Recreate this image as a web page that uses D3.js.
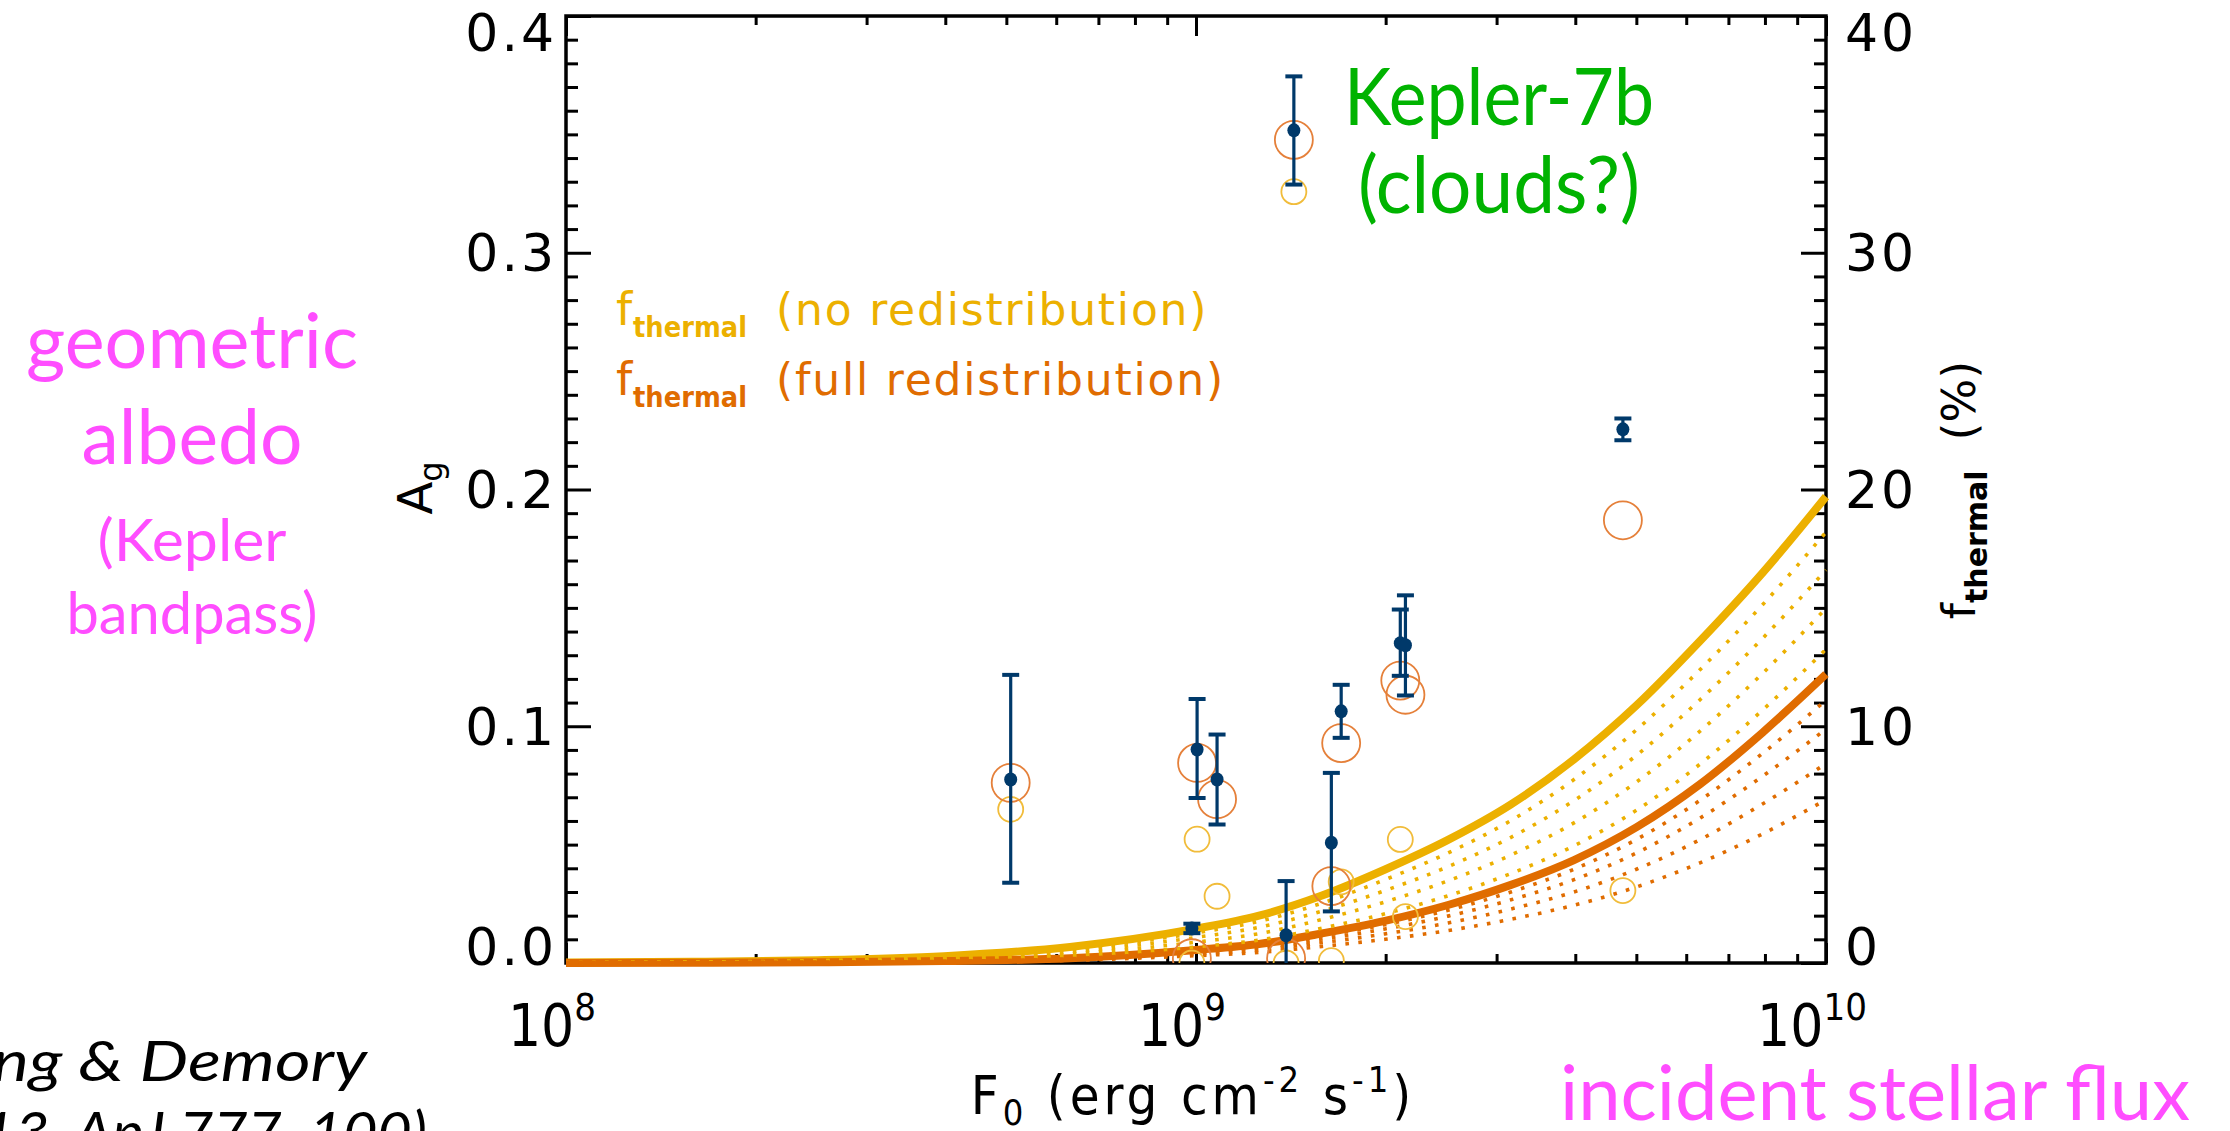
<!DOCTYPE html>
<html>
<head>
<meta charset="utf-8">
<script src="https://cdn.jsdelivr.net/npm/d3@7"></script>
<style>
  html, body { margin: 0; padding: 0; background: #ffffff; }
  svg { display: block; }
</style>
</head>
<body>
<div id="chart"></div>
<script>
// ---- data ----------------------------------------------------------------
// flux grid (log10 F0, erg cm^-2 s^-1) on which the thermal-fraction curves are tabulated
const logFluxGrid = [8.0, 8.2, 8.4, 8.6, 8.8, 9.0, 9.1, 9.2, 9.3, 9.4, 9.5, 9.6, 9.7, 9.8, 9.9, 10.0];

// f_thermal (%) with no heat redistribution (solid yellow)
const fThermalNoRedist = [0.02, 0.05, 0.12, 0.29, 0.68, 1.45, 2.0, 2.85, 3.95, 5.2, 6.7, 8.6, 10.9, 13.6, 16.5, 19.7];
// f_thermal (%) with full heat redistribution (solid orange)
const fThermalFullRedist = [0.0, 0.01, 0.03, 0.08, 0.2, 0.55, 0.8, 1.25, 1.78, 2.45, 3.3, 4.35, 5.75, 7.55, 9.75, 12.2];

// dotted yellow curves lying between the two limits
const fThermalYellowDotted = [
  [0.02, 0.04, 0.10, 0.25, 0.58, 1.27, 1.76, 2.53, 3.52, 4.65, 6.02, 7.75, 9.87, 12.39, 15.15, 18.2],
  [0.01, 0.03, 0.08, 0.20, 0.48, 1.08, 1.51, 2.19, 3.06, 4.07, 5.31, 6.86, 8.79, 11.12, 13.73, 16.6],
  [0.01, 0.03, 0.06, 0.16, 0.38, 0.88, 1.24, 1.84, 2.58, 3.47, 4.56, 5.92, 7.66, 9.79, 12.25, 14.98],
  [0.0, 0.02, 0.04, 0.11, 0.27, 0.68, 0.97, 1.47, 2.08, 2.84, 3.78, 4.95, 6.47, 8.4, 10.7, 13.25]
];
// dotted orange curves below the full-redistribution limit
const fThermalOrangeDotted = [
  [0.0, 0.01, 0.03, 0.07, 0.18, 0.50, 0.73, 1.14, 1.62, 2.23, 3.0, 3.96, 5.23, 6.87, 8.87, 11.1],
  [0.0, 0.01, 0.02, 0.06, 0.16, 0.45, 0.65, 1.01, 1.44, 1.98, 2.67, 3.52, 4.66, 6.12, 7.9, 9.88],
  [0.0, 0.01, 0.02, 0.06, 0.14, 0.38, 0.55, 0.86, 1.23, 1.69, 2.28, 3.0, 3.97, 5.21, 6.73, 8.42],
  [0.0, 0.01, 0.02, 0.04, 0.11, 0.31, 0.45, 0.70, 1.0, 1.37, 1.85, 2.44, 3.22, 4.23, 5.46, 6.9]
];

// measured Kepler-band geometric albedos
const planetFlux   = [5.08e8, 0.985e9, 1.004e9, 1.08e9, 1.39e9, 1.43e9, 1.64e9, 1.70e9, 2.11e9, 2.15e9, 4.76e9];
const planetAg     = [0.0775, 0.0146, 0.0902, 0.0775, 0.0117, 0.3517, 0.0508, 0.1063, 0.1351, 0.1342, 0.2254];
const agErrUp      = [0.0442, 0.0020, 0.0213, 0.0190, 0.0229, 0.0228, 0.0295, 0.0112, 0.0142, 0.0211, 0.0046];
const agErrDown    = [0.0436, 0.0020, 0.0205, 0.0190, 0.0229, 0.0229, 0.0290, 0.0112, 0.0138, 0.0212, 0.0046];
// albedo after removing the thermal part (open circles)
const agCorrFull   = [0.0761, 0.002, 0.0845, 0.0692, 0.002, 0.3477, 0.0325, 0.0929, 0.1193, 0.1133, 0.187];
const agCorrNone   = [0.0649, 0.0, 0.0523, 0.0282, 0.0, 0.3258, 0.001, 0.0343, 0.0522, 0.0196, 0.0306];

// axis ticks
const agMajorTicks = [0.0, 0.1, 0.2, 0.3, 0.4];
const agTickLabels = ["0.0", "0.1", "0.2", "0.3", "0.4"];
const fMajorTicks = [0, 10, 20, 30, 40];
const fTickLabels = ["0", "10", "20", "30", "40"];
const fluxExponents = [8, 9, 10];

// ---- layout ---------------------------------------------------------------
const W = 2230, H = 1131;
const plot = { left: 566, right: 1826, top: 16, bottom: 963 };

const C = {
  yellow: "#ECB000",
  orange: "#E06C00",
  yellowRing: "#F1BC3A",
  orangeRing: "#E5803A",
  navy: "#00396A",
  green: "#00B300",
  pink: "#FF4DFF",
  ink: "#000000"
};

const tickFont = "'DejaVu Sans', sans-serif";
const narrowFont = "'Liberation Sans Narrow', 'DejaVu Sans Condensed', 'Liberation Sans', sans-serif";
const humanistFont = "Lato, 'Open Sans', sans-serif";

const svg = d3.select("#chart").append("svg")
  .attr("width", W).attr("height", H)
  .attr("viewBox", `0 0 ${W} ${H}`);

svg.append("rect").attr("width", W).attr("height", H).attr("fill", "#fff");

const x = d3.scaleLog().domain([1e8, 1e10]).range([plot.left, plot.right]);
const y = d3.scaleLinear().domain([0, 0.4]).range([plot.bottom, plot.top]);
const yR = d3.scaleLinear().domain([0, 40]).range([plot.bottom, plot.top]);

svg.append("defs").append("clipPath").attr("id", "plotClip")
  .append("rect")
  .attr("x", plot.left).attr("y", plot.top)
  .attr("width", plot.right - plot.left).attr("height", plot.bottom - plot.top);

// ---- axes -----------------------------------------------------------------
const axesG = svg.append("g");

function styleAxis(g) {
  g.select(".domain").remove();
  g.selectAll(".tick line").attr("stroke", C.ink).attr("stroke-width", 3);
  g.selectAll(".tick text").remove();
}

const minorFlux = [];
[1e8, 1e9].forEach(dec => d3.range(2, 10).forEach(k => minorFlux.push(k * dec)));
const majorFlux = fluxExponents.map(e => Math.pow(10, e));
const minorAg = d3.range(1, 40).map(i => i / 100).filter(v => Math.round(v * 100) % 10 !== 0);
const minorF = d3.range(1, 40).filter(v => v % 10 !== 0);

// bottom & top (ticks point into the plot)
axesG.append("g").attr("transform", `translate(0,${plot.bottom})`)
  .call(d3.axisBottom(x).tickValues(minorFlux).tickSize(-9).tickSizeOuter(0)).call(styleAxis);
axesG.append("g").attr("transform", `translate(0,${plot.bottom})`)
  .call(d3.axisBottom(x).tickValues(majorFlux).tickSize(-20).tickSizeOuter(0)).call(styleAxis);
axesG.append("g").attr("transform", `translate(0,${plot.top})`)
  .call(d3.axisTop(x).tickValues(minorFlux).tickSize(-9).tickSizeOuter(0)).call(styleAxis);
axesG.append("g").attr("transform", `translate(0,${plot.top})`)
  .call(d3.axisTop(x).tickValues(majorFlux).tickSize(-20).tickSizeOuter(0)).call(styleAxis);

// left (albedo) and right (thermal fraction)
axesG.append("g").attr("transform", `translate(${plot.left},0)`)
  .call(d3.axisLeft(y).tickValues(minorAg).tickSize(-12).tickSizeOuter(0)).call(styleAxis);
axesG.append("g").attr("transform", `translate(${plot.left},0)`)
  .call(d3.axisLeft(y).tickValues(agMajorTicks).tickSize(-25).tickSizeOuter(0)).call(styleAxis);
axesG.append("g").attr("transform", `translate(${plot.right},0)`)
  .call(d3.axisRight(yR).tickValues(minorF).tickSize(-12).tickSizeOuter(0)).call(styleAxis);
axesG.append("g").attr("transform", `translate(${plot.right},0)`)
  .call(d3.axisRight(yR).tickValues(fMajorTicks).tickSize(-25).tickSizeOuter(0)).call(styleAxis);

axesG.append("rect")
  .attr("x", plot.left).attr("y", plot.top)
  .attr("width", plot.right - plot.left).attr("height", plot.bottom - plot.top)
  .attr("fill", "none").attr("stroke", C.ink).attr("stroke-width", 3.5);

// tick labels; the end labels sit a little inside the frame
const labelY = v => Math.min(Math.max(v, plot.top + 16), plot.bottom - 17);

axesG.append("g").selectAll("text").data(agMajorTicks).join("text")
  .attr("x", plot.left - 9)
  .attr("y", d => labelY(y(d)))
  .attr("dy", "0.36em")
  .attr("text-anchor", "end")
  .attr("font-family", tickFont).attr("font-size", 52)
  .attr("letter-spacing", 3)
  .text((d, i) => agTickLabels[i]);

axesG.append("g").selectAll("text").data(fMajorTicks).join("text")
  .attr("x", plot.right + 19)
  .attr("y", d => labelY(yR(d)))
  .attr("dy", "0.36em")
  .attr("text-anchor", "start")
  .attr("font-family", tickFont).attr("font-size", 52)
  .attr("letter-spacing", 3)
  .text((d, i) => fTickLabels[i]);

const xLab = axesG.append("g").selectAll("text").data(fluxExponents).join("text")
  .attr("x", d => x(Math.pow(10, d)) - 14)
  .attr("y", 1046)
  .attr("text-anchor", "middle")
  .attr("font-family", narrowFont).attr("font-size", 58);
xLab.append("tspan").text("10");
xLab.append("tspan").attr("font-size", 38).attr("dy", -26).text(d => d);

// axis titles
const xTitle = svg.append("text")
  .attr("x", 1193).attr("y", 1114)
  .attr("text-anchor", "middle")
  .attr("font-family", narrowFont).attr("font-size", 54)
  .attr("letter-spacing", 4);
xTitle.append("tspan").text("F");
xTitle.append("tspan").attr("font-size", 36).attr("dy", 11).text("0");
xTitle.append("tspan").attr("dy", -11).text(" (erg cm");
xTitle.append("tspan").attr("font-size", 36).attr("dy", -22).text("-2");
xTitle.append("tspan").attr("dy", 22).text(" s");
xTitle.append("tspan").attr("font-size", 36).attr("dy", -22).text("-1");
xTitle.append("tspan").attr("dy", 22).text(")");

const agTitle = svg.append("text")
  .attr("transform", "translate(432,488) rotate(-90)")
  .attr("text-anchor", "middle")
  .attr("font-family", tickFont).attr("font-size", 48);
agTitle.append("tspan").text("A");
agTitle.append("tspan").attr("font-size", 32).attr("dy", 10).text("g");

const fTitle = svg.append("text")
  .attr("transform", "translate(1975,490) rotate(-90)")
  .attr("text-anchor", "middle")
  .attr("font-family", tickFont).attr("font-size", 46);
fTitle.append("tspan").text("f");
fTitle.append("tspan").attr("font-size", 30).attr("dy", 12).attr("font-weight", "bold").text("thermal");
fTitle.append("tspan").attr("dy", -12).attr("dx", 30).text("(%)");

// ---- thermal-fraction curves ------------------------------------------------
const curve = d3.line()
  .x((d, i) => x(Math.pow(10, logFluxGrid[i])))
  .y(d => yR(d))
  .curve(d3.curveMonotoneX);

const curvesG = svg.append("g").attr("fill", "none");

curvesG.append("path").attr("d", curve(fThermalNoRedist))
  .attr("stroke", C.yellow).attr("stroke-width", 8);
curvesG.append("path").attr("d", curve(fThermalFullRedist))
  .attr("stroke", C.orange).attr("stroke-width", 8);

curvesG.selectAll(".ydot").data(fThermalYellowDotted).join("path")
  .attr("class", "ydot")
  .attr("d", d => curve(d))
  .attr("stroke", C.yellow).attr("stroke-width", 3.6)
  .attr("stroke-dasharray", "3.6 9.4");
curvesG.selectAll(".odot").data(fThermalOrangeDotted).join("path")
  .attr("class", "odot")
  .attr("d", d => curve(d))
  .attr("stroke", C.orange).attr("stroke-width", 3.6)
  .attr("stroke-dasharray", "3.6 9.4");

// ---- albedo measurements ------------------------------------------------------
const idx = d3.range(planetFlux.length);
const marksG = svg.append("g").attr("clip-path", "url(#plotClip)");

marksG.append("g").selectAll("circle").data(idx).join("circle")
  .attr("cx", i => x(planetFlux[i])).attr("cy", i => y(agCorrNone[i]))
  .attr("r", 12.5).attr("fill", "none")
  .attr("stroke", C.yellowRing).attr("stroke-width", 1.8);

marksG.append("g").selectAll("circle").data(idx).join("circle")
  .attr("cx", i => x(planetFlux[i])).attr("cy", i => y(agCorrFull[i]))
  .attr("r", 19).attr("fill", "none")
  .attr("stroke", C.orangeRing).attr("stroke-width", 1.8);

const errG = marksG.append("g").attr("stroke", C.navy);
errG.selectAll(".bar").data(idx).join("line").attr("class", "bar")
  .attr("x1", i => x(planetFlux[i])).attr("x2", i => x(planetFlux[i]))
  .attr("y1", i => y(planetAg[i] + agErrUp[i])).attr("y2", i => y(planetAg[i] - agErrDown[i]))
  .attr("stroke-width", 3.2);
errG.selectAll(".capHi").data(idx).join("line").attr("class", "capHi")
  .attr("x1", i => x(planetFlux[i]) - 8.5).attr("x2", i => x(planetFlux[i]) + 8.5)
  .attr("y1", i => y(planetAg[i] + agErrUp[i])).attr("y2", i => y(planetAg[i] + agErrUp[i]))
  .attr("stroke-width", 4);
errG.selectAll(".capLo").data(idx).join("line").attr("class", "capLo")
  .attr("x1", i => x(planetFlux[i]) - 8.5).attr("x2", i => x(planetFlux[i]) + 8.5)
  .attr("y1", i => y(planetAg[i] - agErrDown[i])).attr("y2", i => y(planetAg[i] - agErrDown[i]))
  .attr("stroke-width", 4);

marksG.append("g").selectAll("ellipse").data(idx).join("ellipse")
  .attr("cx", i => x(planetFlux[i])).attr("cy", i => y(planetAg[i]))
  .attr("rx", 6.5).attr("ry", 7).attr("fill", C.navy);

// ---- annotations ----------------------------------------------------------------
function thermalLegend(yBase, color, rest) {
  const g = svg.append("g").attr("fill", color).attr("font-family", tickFont);
  g.append("text").attr("x", 616).attr("y", yBase).attr("font-size", 46).text("f");
  g.append("text").attr("x", 633).attr("y", yBase + 12).attr("font-size", 29)
    .attr("font-weight", "bold").attr("textLength", 114).attr("lengthAdjust", "spacingAndGlyphs").text("thermal");
  g.append("text").attr("x", 776).attr("y", yBase).attr("font-size", 44)
    .attr("letter-spacing", 1.8).text(rest);
}
thermalLegend(325, C.yellow, "(no redistribution)");
thermalLegend(395, C.orange, "(full redistribution)");

svg.append("text").attr("x", 1499).attr("y", 125)
  .attr("text-anchor", "middle").attr("fill", C.green)
  .attr("font-family", humanistFont).attr("font-size", 80)
  .attr("textLength", 310).attr("lengthAdjust", "spacingAndGlyphs")
  .text("Kepler-7b");
svg.append("text").attr("x", 1499).attr("y", 213)
  .attr("text-anchor", "middle").attr("fill", C.green)
  .attr("font-family", humanistFont).attr("font-size", 80)
  .attr("textLength", 282).attr("lengthAdjust", "spacingAndGlyphs")
  .text("(clouds?)");

const pinkLines = [
  { t: "geometric", y: 368, s: 76, w: 332 },
  { t: "albedo", y: 464, s: 76, w: 221 },
  { t: "(Kepler", y: 561, s: 58, w: 189 },
  { t: "bandpass)", y: 634, s: 58, w: 251 }
];
svg.append("g").selectAll("text").data(pinkLines).join("text")
  .attr("x", 192).attr("y", d => d.y)
  .attr("text-anchor", "middle").attr("fill", C.pink)
  .attr("font-family", humanistFont).attr("font-size", d => d.s)
  .attr("textLength", d => d.w).attr("lengthAdjust", "spacingAndGlyphs")
  .text(d => d.t);

svg.append("text").attr("x", 1560).attr("y", 1120)
  .attr("fill", C.pink).attr("font-family", humanistFont).attr("font-size", 76)
  .attr("textLength", 630).attr("lengthAdjust", "spacingAndGlyphs")
  .text("incident stellar flux");

// citation, partly running off the left and bottom edges
svg.append("text").attr("x", 367).attr("y", 1081)
  .attr("text-anchor", "end").attr("font-family", humanistFont)
  .attr("font-style", "italic").attr("font-size", 56)
  .attr("textLength", 455).attr("lengthAdjust", "spacingAndGlyphs")
  .text("Heng & Demory");
svg.append("text").attr("x", 427).attr("y", 1152)
  .attr("text-anchor", "end").attr("font-family", humanistFont)
  .attr("font-style", "italic").attr("font-size", 56)
  .attr("textLength", 530).attr("lengthAdjust", "spacingAndGlyphs")
  .text("(2013, ApJ 777, 100)");
</script>
</body>
</html>
